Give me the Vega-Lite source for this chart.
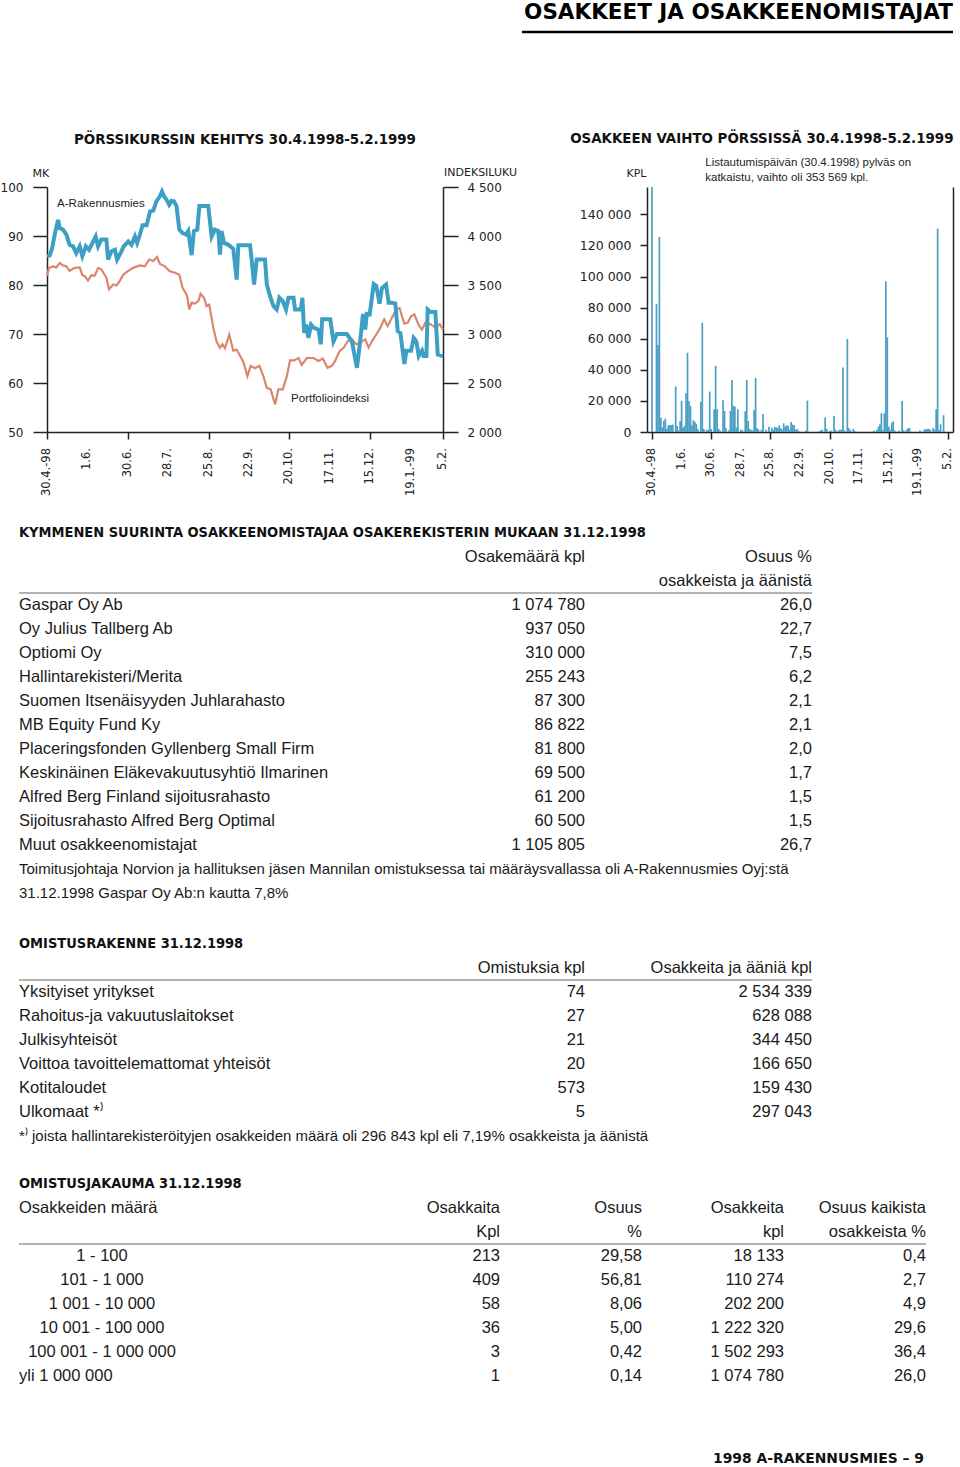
{
"$schema": "https://vega.github.io/schema/vega-lite/v6.json",
"padding": {"left": 0, "top": 2, "right": 4, "bottom": 0},
"bounds": "full",
"spacing": 0,
"config": {
  "view": {"stroke": null},
  "locale": {"number": {"decimal": ",", "thousands": " ", "grouping": [3], "currency": ["", ""]}},
  "font": "Liberation Sans",
  "text": {"font": "Liberation Sans", "color": "#1a1a1a"},
  "axis": {"domainColor": "#222", "domainWidth": 1.5, "tickColor": "#222", "tickWidth": 1.5, "labelColor": "#222", "labelFont": "DejaVu Sans", "titleFont": "DejaVu Sans", "titleFontWeight": "normal", "titleColor": "#222", "titleFontSize": 11, "grid": false, "labelOverlap": false, "labelFlush": false},
  "title": {"color": "#111", "fontWeight": "bold"}
},
"datasets": {
  "kurssi": [{"d":0,"mk":85.9},{"d":1.3,"mk":86},{"d":2.6,"mk":87.6},{"d":3.8,"mk":90.3},{"d":5.5,"mk":93.3},{"d":6.3,"mk":91.6},{"d":7.9,"mk":91.3},{"d":9.6,"mk":90.3},{"d":11.2,"mk":88.2},{"d":12.9,"mk":87.9},{"d":14.5,"mk":86.5},{"d":16.2,"mk":87.9},{"d":17.5,"mk":85.9},{"d":19.2,"mk":87.9},{"d":20.8,"mk":87.2},{"d":22.5,"mk":88.6},{"d":24.1,"mk":89.9},{"d":25.3,"mk":87.9},{"d":26.9,"mk":89.3},{"d":29.4,"mk":89.3},{"d":30.2,"mk":85.2},{"d":31.9,"mk":86.9},{"d":33.6,"mk":87.2},{"d":34.7,"mk":85.2},{"d":36.4,"mk":86.5},{"d":38,"mk":87.9},{"d":40.2,"mk":88.9},{"d":41.8,"mk":88.2},{"d":43.5,"mk":89.9},{"d":44.6,"mk":88.6},{"d":46,"mk":90.3},{"d":47.3,"mk":92.2},{"d":49.3,"mk":92.2},{"d":51,"mk":95},{"d":52.6,"mk":95.2},{"d":54.2,"mk":97.1},{"d":55.9,"mk":98.1},{"d":56.9,"mk":99.1},{"d":57.9,"mk":98.1},{"d":59.2,"mk":97.4},{"d":60.5,"mk":96.4},{"d":61.7,"mk":97.2},{"d":62.8,"mk":97.1},{"d":64.1,"mk":96.1},{"d":65.5,"mk":91.3},{"d":67.1,"mk":90.6},{"d":68.8,"mk":90.3},{"d":69.9,"mk":91},{"d":71.6,"mk":86.1},{"d":72.7,"mk":91},{"d":74.4,"mk":91.3},{"d":75.4,"mk":96.1},{"d":79.8,"mk":96.1},{"d":81.5,"mk":89.9},{"d":83.1,"mk":91.3},{"d":84.8,"mk":91},{"d":85.6,"mk":86.2},{"d":86.4,"mk":91},{"d":87.6,"mk":88.6},{"d":89.8,"mk":88.2},{"d":92.2,"mk":87.4},{"d":93.9,"mk":81.1},{"d":94.7,"mk":88.1},{"d":100.5,"mk":88.1},{"d":101.3,"mk":85.2},{"d":102.5,"mk":80.1},{"d":103.8,"mk":85.2},{"d":107.9,"mk":85.2},{"d":108.8,"mk":80.1},{"d":110.4,"mk":77.7},{"d":112.1,"mk":75.7},{"d":113.7,"mk":75},{"d":115,"mk":77.4},{"d":116.7,"mk":76.7},{"d":118.3,"mk":75},{"d":119.5,"mk":77.4},{"d":122,"mk":77.4},{"d":122.8,"mk":75},{"d":125.6,"mk":75},{"d":126.4,"mk":77.4},{"d":127.3,"mk":70.2},{"d":128.3,"mk":71.9},{"d":129.4,"mk":69.2},{"d":130.7,"mk":71.9},{"d":131.9,"mk":71.3},{"d":134.4,"mk":70.9},{"d":135.5,"mk":67.9},{"d":136.2,"mk":73},{"d":140.2,"mk":73},{"d":141.8,"mk":68.5},{"d":143.5,"mk":70},{"d":148.4,"mk":70},{"d":150.9,"mk":68.5},{"d":153.4,"mk":63.1},{"d":155,"mk":68.5},{"d":156.4,"mk":74.1},{"d":157.5,"mk":70.9},{"d":158.3,"mk":74.1},{"d":159.7,"mk":74},{"d":161.7,"mk":80.2},{"d":163,"mk":79.8},{"d":164.6,"mk":76.2},{"d":165.8,"mk":79.4},{"d":167.8,"mk":80.1},{"d":169.1,"mk":76.4},{"d":170.7,"mk":76.4},{"d":172.4,"mk":76.2},{"d":173.6,"mk":70.6},{"d":174.9,"mk":70.2},{"d":176.9,"mk":63.9},{"d":177.9,"mk":66.6},{"d":180.2,"mk":66.6},{"d":181.5,"mk":69.2},{"d":182.8,"mk":68.5},{"d":184,"mk":65.5},{"d":185.6,"mk":66.6},{"d":186.4,"mk":65.5},{"d":187.8,"mk":65.5},{"d":188.4,"mk":75},{"d":189.8,"mk":74.5},{"d":192.2,"mk":74.5},{"d":193.4,"mk":65.8},{"d":196,"mk":65.5}],
  "indeksi": [{"d":0,"ix":3590},{"d":1,"ix":3675},{"d":3,"ix":3690},{"d":4.6,"ix":3680},{"d":6.3,"ix":3725},{"d":7.9,"ix":3700},{"d":9.6,"ix":3690},{"d":11.2,"ix":3645},{"d":13.7,"ix":3675},{"d":16.2,"ix":3680},{"d":17.5,"ix":3600},{"d":18.7,"ix":3590},{"d":20.3,"ix":3545},{"d":22,"ix":3600},{"d":23.6,"ix":3595},{"d":25.3,"ix":3675},{"d":26.9,"ix":3660},{"d":28.6,"ix":3600},{"d":29.4,"ix":3575},{"d":30.7,"ix":3455},{"d":32.7,"ix":3505},{"d":34.4,"ix":3495},{"d":36,"ix":3540},{"d":37.7,"ix":3605},{"d":40.2,"ix":3645},{"d":42.6,"ix":3675},{"d":46,"ix":3700},{"d":48.4,"ix":3690},{"d":50.6,"ix":3760},{"d":52.6,"ix":3745},{"d":54.5,"ix":3785},{"d":55.9,"ix":3715},{"d":58.3,"ix":3690},{"d":60.8,"ix":3640},{"d":63.3,"ix":3625},{"d":65.5,"ix":3605},{"d":67.1,"ix":3470},{"d":68.3,"ix":3430},{"d":69.4,"ix":3385},{"d":70.4,"ix":3250},{"d":71.6,"ix":3320},{"d":73.2,"ix":3310},{"d":74.9,"ix":3335},{"d":76,"ix":3410},{"d":77.7,"ix":3370},{"d":79,"ix":3285},{"d":80.3,"ix":3300},{"d":82.3,"ix":3065},{"d":83.9,"ix":2925},{"d":85.6,"ix":2860},{"d":86.9,"ix":2895},{"d":88.1,"ix":2855},{"d":90.2,"ix":2995},{"d":92.2,"ix":2830},{"d":93.9,"ix":2840},{"d":95.2,"ix":2790},{"d":97.2,"ix":2715},{"d":99.2,"ix":2570},{"d":100.8,"ix":2675},{"d":103,"ix":2650},{"d":105.1,"ix":2675},{"d":107.1,"ix":2570},{"d":108.8,"ix":2450},{"d":110.7,"ix":2435},{"d":112.9,"ix":2280},{"d":114.5,"ix":2435},{"d":116.7,"ix":2435},{"d":118.7,"ix":2570},{"d":120.3,"ix":2730},{"d":122.3,"ix":2730},{"d":124.5,"ix":2755},{"d":126.1,"ix":2685},{"d":128.6,"ix":2755},{"d":131.9,"ix":2755},{"d":134.4,"ix":2725},{"d":136.5,"ix":2750},{"d":138.8,"ix":2655},{"d":141,"ix":2675},{"d":142.6,"ix":2725},{"d":144.8,"ix":2825},{"d":146.8,"ix":2860},{"d":148.8,"ix":2925},{"d":150.9,"ix":2945},{"d":153.1,"ix":2895},{"d":155,"ix":2910},{"d":157.5,"ix":2945},{"d":159.2,"ix":2860},{"d":160.8,"ix":2925},{"d":163,"ix":2995},{"d":165,"ix":3065},{"d":166.9,"ix":3150},{"d":168.6,"ix":3080},{"d":170.7,"ix":3165},{"d":172.9,"ix":3250},{"d":174.5,"ix":3265},{"d":175.7,"ix":3180},{"d":176.9,"ix":3105},{"d":178.5,"ix":3115},{"d":180.2,"ix":3180},{"d":181.8,"ix":3200},{"d":184,"ix":3090},{"d":185.6,"ix":3045},{"d":187.3,"ix":3115},{"d":189.8,"ix":3100},{"d":192.2,"ix":3065},{"d":194.4,"ix":3100},{"d":196,"ix":3045}],
  "nimet": [{"d":5,"v":96.5,"t":"A-Rakennusmies"},{"d":120.8,"v":56.7,"t":"Portfolioindeksi"}],
  "paivat1": [{"d":0,"lab":"30.4.-98"},{"d":20,"lab":"1.6."},{"d":40,"lab":"30.6."},{"d":60,"lab":"28.7."},{"d":80,"lab":"25.8."},{"d":100,"lab":"22.9."},{"d":120,"lab":"20.10."},{"d":140,"lab":"17.11."},{"d":160,"lab":"15.12."},{"d":180,"lab":"19.1.-99"},{"d":196,"lab":"5.2."}],
  "paivat2": [{"d":0,"lab":"30.4.-98"},{"d":20,"lab":"1.6."},{"d":40,"lab":"30.6."},{"d":60,"lab":"28.7."},{"d":80,"lab":"25.8."},{"d":100,"lab":"22.9."},{"d":120,"lab":"20.10."},{"d":140,"lab":"17.11."},{"d":160,"lab":"15.12."},{"d":180,"lab":"19.1.-99"},{"d":200,"lab":"5.2."}],
  "vaihto": [{"d":0,"v":353569},{"d":3,"v":82500},{"d":4,"v":56000},{"d":5,"v":125500},{"d":6,"v":9200},{"d":7,"v":3000},{"d":8,"v":7100},{"d":9,"v":8600},{"d":10,"v":2000},{"d":11,"v":4300},{"d":12,"v":4500},{"d":13,"v":4500},{"d":14,"v":4800},{"d":16,"v":29300},{"d":17,"v":3900},{"d":18,"v":1000},{"d":19,"v":7100},{"d":20,"v":20000},{"d":21,"v":2800},{"d":22,"v":4000},{"d":23,"v":25000},{"d":24,"v":51000},{"d":25,"v":20000},{"d":26,"v":16800},{"d":27,"v":4300},{"d":28,"v":7600},{"d":29,"v":6500},{"d":30,"v":5000},{"d":31,"v":1700},{"d":33,"v":19600},{"d":34,"v":70200},{"d":35,"v":2000},{"d":37,"v":1500},{"d":38,"v":1200},{"d":39,"v":26000},{"d":40,"v":2000},{"d":42,"v":14600},{"d":43,"v":42600},{"d":44,"v":14600},{"d":45,"v":2000},{"d":46,"v":1000},{"d":48,"v":20400},{"d":49,"v":13500},{"d":50,"v":2500},{"d":52,"v":1200},{"d":53,"v":13500},{"d":54,"v":33400},{"d":55,"v":16800},{"d":56,"v":16400},{"d":57,"v":3000},{"d":58,"v":14600},{"d":60,"v":1500},{"d":61,"v":1200},{"d":63,"v":13300},{"d":64,"v":33400},{"d":65,"v":7100},{"d":66,"v":2000},{"d":67,"v":1200},{"d":68,"v":1000},{"d":69,"v":14200},{"d":70,"v":34700},{"d":71,"v":2500},{"d":72,"v":1500},{"d":74,"v":1500},{"d":75,"v":11600},{"d":77,"v":1500},{"d":79,"v":3400},{"d":81,"v":2800},{"d":82,"v":1500},{"d":83,"v":3200},{"d":84,"v":3000},{"d":85,"v":2500},{"d":86,"v":4300},{"d":87,"v":2500},{"d":88,"v":1500},{"d":89,"v":5600},{"d":90,"v":3500},{"d":91,"v":4300},{"d":92,"v":3900},{"d":93,"v":1500},{"d":94,"v":6500},{"d":95,"v":4800},{"d":96,"v":4300},{"d":97,"v":1500},{"d":98,"v":2000},{"d":99,"v":800},{"d":104,"v":1000},{"d":105,"v":20200},{"d":113,"v":600},{"d":114,"v":1000},{"d":115,"v":1500},{"d":117,"v":9300},{"d":118,"v":2000},{"d":120,"v":600},{"d":121,"v":1000},{"d":123,"v":10300},{"d":124,"v":1500},{"d":126,"v":1000},{"d":127,"v":1500},{"d":128,"v":1500},{"d":129,"v":41500},{"d":130,"v":1000},{"d":132,"v":59800},{"d":133,"v":2500},{"d":134,"v":1200},{"d":136,"v":2000},{"d":137,"v":600},{"d":150,"v":900},{"d":152,"v":1500},{"d":153,"v":3400},{"d":154,"v":5000},{"d":155,"v":12000},{"d":156,"v":1000},{"d":157,"v":12000},{"d":158,"v":96900},{"d":159,"v":60900},{"d":160,"v":3400},{"d":161,"v":1200},{"d":162,"v":6000},{"d":163,"v":6900},{"d":164,"v":1000},{"d":167,"v":1000},{"d":169,"v":20000},{"d":170,"v":1200},{"d":172,"v":1500},{"d":173,"v":2400},{"d":174,"v":2600},{"d":181,"v":1000},{"d":184,"v":1500},{"d":185,"v":1800},{"d":186,"v":2000},{"d":187,"v":2000},{"d":188,"v":1500},{"d":190,"v":2500},{"d":191,"v":1500},{"d":192,"v":14600},{"d":193,"v":130900},{"d":194,"v":1500},{"d":195,"v":5000},{"d":197,"v":10800}],
  "huom": [{"d":36,"v":157600,"t":["Listautumispäivän (30.4.1998) pylväs on","katkaistu, vaihto oli 353 569 kpl."]}],
  "t1": [
    {"r":0,"n":"KYMMENEN SUURINTA OSAKKEENOMISTAJAA OSAKEREKISTERIN MUKAAN 31.12.1998","k":"","o":""},
    {"r":1,"n":"","k":"Osakemäärä kpl","o":"Osuus %"},
    {"r":2,"n":"","k":"","o":"osakkeista ja äänistä"},
    {"r":3,"n":"Gaspar Oy Ab","k":"1 074 780","o":"26,0"},
    {"r":4,"n":"Oy Julius Tallberg Ab","k":"937 050","o":"22,7"},
    {"r":5,"n":"Optiomi Oy","k":"310 000","o":"7,5"},
    {"r":6,"n":"Hallintarekisteri/Merita","k":"255 243","o":"6,2"},
    {"r":7,"n":"Suomen Itsenäisyyden Juhlarahasto","k":"87 300","o":"2,1"},
    {"r":8,"n":"MB Equity Fund Ky","k":"86 822","o":"2,1"},
    {"r":9,"n":"Placeringsfonden Gyllenberg Small Firm","k":"81 800","o":"2,0"},
    {"r":10,"n":"Keskinäinen Eläkevakuutusyhtiö Ilmarinen","k":"69 500","o":"1,7"},
    {"r":11,"n":"Alfred Berg Finland sijoitusrahasto","k":"61 200","o":"1,5"},
    {"r":12,"n":"Sijoitusrahasto Alfred Berg Optimal","k":"60 500","o":"1,5"},
    {"r":13,"n":"Muut osakkeenomistajat","k":"1 105 805","o":"26,7"},
    {"r":14,"n":"Toimitusjohtaja Norvion ja hallituksen jäsen Mannilan omistuksessa tai määräysvallassa oli A-Rakennusmies Oyj:stä","k":"","o":""},
    {"r":15,"n":"31.12.1998 Gaspar Oy Ab:n kautta 7,8%","k":"","o":""}
  ],
  "t2": [
    {"r":0,"n":"OMISTUSRAKENNE 31.12.1998","k":"","o":""},
    {"r":1,"n":"","k":"Omistuksia kpl","o":"Osakkeita ja ääniä kpl"},
    {"r":2,"n":"Yksityiset yritykset","k":"74","o":"2 534 339"},
    {"r":3,"n":"Rahoitus-ja vakuutuslaitokset","k":"27","o":"628 088"},
    {"r":4,"n":"Julkisyhteisöt","k":"21","o":"344 450"},
    {"r":5,"n":"Voittoa tavoittelemattomat yhteisöt","k":"20","o":"166 650"},
    {"r":6,"n":"Kotitaloudet","k":"573","o":"159 430"},
    {"r":7,"n":"Ulkomaat *⁾","k":"5","o":"297 043"},
    {"r":8,"n":"*⁾ joista hallintarekisteröityjen osakkeiden määrä oli 296 843 kpl eli 7,19% osakkeista ja äänistä","k":"","o":""}
  ],
  "t3": [
    {"r":0,"n":"OMISTUSJAKAUMA 31.12.1998","a":"","b":"","c":"","e":""},
    {"r":1,"n":"Osakkeiden määrä","a":"Osakkaita","b":"Osuus","c":"Osakkeita","e":"Osuus kaikista"},
    {"r":2,"n":"","a":"Kpl","b":"%","c":"kpl","e":"osakkeista %"},
    {"r":3,"n":"1 - 100","a":"213","b":"29,58","c":"18 133","e":"0,4"},
    {"r":4,"n":"101 - 1 000","a":"409","b":"56,81","c":"110 274","e":"2,7"},
    {"r":5,"n":"1 001 - 10 000","a":"58","b":"8,06","c":"202 200","e":"4,9"},
    {"r":6,"n":"10 001 - 100 000","a":"36","b":"5,00","c":"1 222 320","e":"29,6"},
    {"r":7,"n":"100 001 - 1 000 000","a":"3","b":"0,42","c":"1 502 293","e":"36,4"},
    {"r":8,"n":"yli 1 000 000","a":"1","b":"0,14","c":"1 074 780","e":"26,0"}
  ]
},
"vconcat": [
  {"hconcat": [
    {"width": 503, "height": 129, "data": {"values": [{}]}, "mark": {"type": "text", "text": ""}},
    {"width": 431, "height": 30, "data": {"values": [{"t": "OSAKKEET JA OSAKKEENOMISTAJAT"}]},
     "layer": [
       {"mark": {"type": "text", "align": "right", "baseline": "top", "font": "DejaVu Sans", "fontWeight": "bold", "fontSize": 21.5, "color": "#000"}, "encoding": {"x": {"value": "width"}, "y": {"value": 0}, "text": {"field": "t"}}},
       {"mark": {"type": "rule", "color": "#000", "strokeWidth": 2.5}, "encoding": {"x": {"value": 0}, "x2": {"value": "width"}, "y": {"value": "height"}}}
     ]}
  ], "spacing": 0, "bounds": "flush"},
  {"hconcat": [
    {"width": 28, "height": 334, "data": {"values": [{}]}, "mark": {"type": "text", "text": ""}},
    {"width": 396, "height": 245,
     "title": {"text": "PÖRSSIKURSSIN KEHITYS 30.4.1998-5.2.1999", "anchor": "middle", "font": "DejaVu Sans Condensed, DejaVu Sans", "fontSize": 14.9, "fontWeight": "bold", "color": "#111", "offset": 19},
     "layer": [
       {"data": {"name": "indeksi"},
        "mark": {"type": "line", "color": "#d9876d", "strokeWidth": 2.2},
        "encoding": {
          "x": {"field": "d", "type": "quantitative", "scale": {"domain": [0, 196], "nice": false, "zero": false},
                "axis": {"values": [0,20,40,60,80,100,120,140,160,180,196], "labels": false, "tickSize": 7, "title": null}},
          "y": {"field": "ix", "type": "quantitative", "scale": {"domain": [2000, 4500], "nice": false, "zero": false},
                "axis": {"orient": "right", "values": [2000,2500,3000,3500,4000,4500], "format": ",d", "tickSize": 15, "labelPadding": 9, "labelFontSize": 12, "title": "INDEKSILUKU", "titleAngle": 0, "titleAlign": "center", "titleBaseline": "bottom", "titleX": 37, "titleY": -10}}
        }},
       {"data": {"name": "kurssi"},
        "mark": {"type": "line", "color": "#3e9fc5", "strokeWidth": 4},
        "encoding": {
          "x": {"field": "d", "type": "quantitative"},
          "y": {"field": "mk", "type": "quantitative", "scale": {"domain": [50, 100], "nice": false, "zero": false},
                "axis": {"orient": "left", "values": [50,60,70,80,90,100], "tickSize": 14, "labelPadding": 10, "labelFontSize": 12, "title": "MK", "titleAngle": 0, "titleAlign": "left", "titleBaseline": "bottom", "titleX": -15, "titleY": -9}}
        }},
       {"data": {"name": "nimet"},
        "mark": {"type": "text", "align": "left", "baseline": "middle", "fontSize": 11.5, "color": "#222"},
        "encoding": {
          "x": {"field": "d", "type": "quantitative"},
          "y": {"field": "v", "type": "quantitative", "scale": {"domain": [50, 100], "nice": false, "zero": false}, "axis": null},
          "text": {"field": "t"}
        }},
       {"data": {"name": "paivat1"},
        "mark": {"type": "text", "angle": 270, "align": "right", "baseline": "middle", "dx": -16, "font": "DejaVu Sans", "fontSize": 11.5, "color": "#222"},
        "encoding": {
          "x": {"field": "d", "type": "quantitative"},
          "y": {"value": "height"},
          "text": {"field": "lab"}
        }}
     ],
     "resolve": {"scale": {"y": "independent"}}},
    {"width": 204, "height": 1, "data": {"values": [{}]}, "mark": {"type": "text", "text": ""}},
    {"width": 306, "height": 245,
     "title": {"text": "OSAKKEEN VAIHTO PÖRSSISSÄ 30.4.1998-5.2.1999", "anchor": "end", "font": "DejaVu Sans Condensed, DejaVu Sans", "fontSize": 14.9, "fontWeight": "bold", "color": "#111", "offset": 11},
     "layer": [
       {"data": {"name": "vaihto"},
        "mark": {"type": "bar", "orient": "vertical", "size": 1.7, "color": "#4a9fc3"},
        "encoding": {
          "x": {"field": "d", "type": "quantitative", "scale": {"domain": [0, 200], "nice": false, "zero": false},
                "axis": {"values": [0,20,40,60,80,100,120,140,160,180,200], "labels": false, "tickSize": 7, "title": null}},
          "y": {"field": "v", "type": "quantitative", "scale": {"domain": [0, 157600], "nice": false, "clamp": true},
                "axis": {"orient": "left", "values": [0,20000,40000,60000,80000,100000,120000,140000], "format": ",d", "tickSize": 7, "labelPadding": 9, "labelFontSize": 12.5, "title": "KPL", "titleAngle": 0, "titleAlign": "right", "titleBaseline": "bottom", "titleX": -1, "titleY": -9}}
        }},
       {"data": {"name": "huom"},
        "mark": {"type": "text", "align": "left", "baseline": "bottom", "dy": -19, "fontSize": 11.5, "lineHeight": 15, "color": "#222"},
        "encoding": {
          "x": {"field": "d", "type": "quantitative"},
          "y": {"field": "v", "type": "quantitative", "scale": {"domain": [0, 157600], "nice": false}, "axis": {"orient": "right", "ticks": false, "labels": false, "title": null}},
          "text": {"field": "t"}
        }},
       {"data": {"name": "paivat2"},
        "mark": {"type": "text", "angle": 270, "align": "right", "baseline": "middle", "dx": -16, "font": "DejaVu Sans", "fontSize": 11.5, "color": "#222"},
        "encoding": {
          "x": {"field": "d", "type": "quantitative"},
          "y": {"value": "height"},
          "text": {"field": "lab"}
        }}
     ],
     "resolve": {"scale": {"y": "independent"}}}
  ], "spacing": 0, "bounds": "flush"},
  {"hconcat": [
    {"width": 340, "height": 384, "data": {"name": "t1"},
     "encoding": {"y": {"field": "r", "type": "ordinal", "axis": null, "scale": {"type": "band", "paddingInner": 0, "paddingOuter": 0}}},
     "layer": [
       {"transform": [{"filter": "datum.r == 0"}], "mark": {"type": "text", "align": "left", "baseline": "middle", "font": "DejaVu Sans Condensed, DejaVu Sans", "fontWeight": "bold", "fontSize": 14.5, "color": "#111"}, "encoding": {"x": {"value": 0}, "text": {"field": "n"}}},
       {"transform": [{"filter": "datum.r > 0 && datum.r <= 13"}], "mark": {"type": "text", "align": "left", "baseline": "middle", "fontSize": 16.5}, "encoding": {"x": {"value": 0}, "text": {"field": "n"}}},
       {"transform": [{"filter": "datum.r > 13"}], "mark": {"type": "text", "align": "left", "baseline": "middle", "fontSize": 15}, "encoding": {"x": {"value": 0}, "text": {"field": "n"}}},
       {"transform": [{"filter": "datum.r == 3"}], "mark": {"type": "rule", "color": "#999", "strokeWidth": 1.5}, "encoding": {"y": {"field": "r", "type": "ordinal", "bandPosition": 0}}}
     ]},
    {"width": 226, "height": 384, "data": {"name": "t1"},
     "encoding": {"y": {"field": "r", "type": "ordinal", "axis": null, "scale": {"type": "band", "paddingInner": 0, "paddingOuter": 0}}},
     "layer": [
       {"mark": {"type": "text", "align": "right", "baseline": "middle", "fontSize": 16.5}, "encoding": {"x": {"value": "width"}, "text": {"field": "k"}}},
       {"transform": [{"filter": "datum.r == 3"}], "mark": {"type": "rule", "color": "#999", "strokeWidth": 1.5}, "encoding": {"y": {"field": "r", "type": "ordinal", "bandPosition": 0}}}
     ]},
    {"width": 227, "height": 384, "data": {"name": "t1"},
     "encoding": {"y": {"field": "r", "type": "ordinal", "axis": null, "scale": {"type": "band", "paddingInner": 0, "paddingOuter": 0}}},
     "layer": [
       {"mark": {"type": "text", "align": "right", "baseline": "middle", "fontSize": 16.5}, "encoding": {"x": {"value": "width"}, "text": {"field": "o"}}},
       {"transform": [{"filter": "datum.r == 3"}], "mark": {"type": "rule", "color": "#999", "strokeWidth": 1.5}, "encoding": {"y": {"field": "r", "type": "ordinal", "bandPosition": 0}}}
     ]},
    {"width": 1, "height": 411, "data": {"values": [{}]}, "mark": {"type": "text", "text": ""}}
  ], "spacing": 0, "bounds": "flush"},
  {"hconcat": [
    {"width": 340, "height": 216, "data": {"name": "t2"},
     "encoding": {"y": {"field": "r", "type": "ordinal", "axis": null, "scale": {"type": "band", "paddingInner": 0, "paddingOuter": 0}}},
     "layer": [
       {"transform": [{"filter": "datum.r == 0"}], "mark": {"type": "text", "align": "left", "baseline": "middle", "font": "DejaVu Sans Condensed, DejaVu Sans", "fontWeight": "bold", "fontSize": 14.5, "color": "#111"}, "encoding": {"x": {"value": 0}, "text": {"field": "n"}}},
       {"transform": [{"filter": "datum.r > 0 && datum.r <= 7"}], "mark": {"type": "text", "align": "left", "baseline": "middle", "fontSize": 16.5}, "encoding": {"x": {"value": 0}, "text": {"field": "n"}}},
       {"transform": [{"filter": "datum.r > 7"}], "mark": {"type": "text", "align": "left", "baseline": "middle", "fontSize": 15}, "encoding": {"x": {"value": 0}, "text": {"field": "n"}}},
       {"transform": [{"filter": "datum.r == 2"}], "mark": {"type": "rule", "color": "#999", "strokeWidth": 1.5}, "encoding": {"y": {"field": "r", "type": "ordinal", "bandPosition": 0}}}
     ]},
    {"width": 226, "height": 216, "data": {"name": "t2"},
     "encoding": {"y": {"field": "r", "type": "ordinal", "axis": null, "scale": {"type": "band", "paddingInner": 0, "paddingOuter": 0}}},
     "layer": [
       {"mark": {"type": "text", "align": "right", "baseline": "middle", "fontSize": 16.5}, "encoding": {"x": {"value": "width"}, "text": {"field": "k"}}},
       {"transform": [{"filter": "datum.r == 2"}], "mark": {"type": "rule", "color": "#999", "strokeWidth": 1.5}, "encoding": {"y": {"field": "r", "type": "ordinal", "bandPosition": 0}}}
     ]},
    {"width": 227, "height": 216, "data": {"name": "t2"},
     "encoding": {"y": {"field": "r", "type": "ordinal", "axis": null, "scale": {"type": "band", "paddingInner": 0, "paddingOuter": 0}}},
     "layer": [
       {"mark": {"type": "text", "align": "right", "baseline": "middle", "fontSize": 16.5}, "encoding": {"x": {"value": "width"}, "text": {"field": "o"}}},
       {"transform": [{"filter": "datum.r == 2"}], "mark": {"type": "rule", "color": "#999", "strokeWidth": 1.5}, "encoding": {"y": {"field": "r", "type": "ordinal", "bandPosition": 0}}}
     ]},
    {"width": 1, "height": 240, "data": {"values": [{}]}, "mark": {"type": "text", "text": ""}}
  ], "spacing": 0, "bounds": "flush"},
  {"hconcat": [
    {"width": 166, "height": 216, "data": {"name": "t3"},
     "encoding": {"y": {"field": "r", "type": "ordinal", "axis": null, "scale": {"type": "band", "paddingInner": 0, "paddingOuter": 0}}},
     "layer": [
       {"transform": [{"filter": "datum.r == 0"}], "mark": {"type": "text", "align": "left", "baseline": "middle", "font": "DejaVu Sans Condensed, DejaVu Sans", "fontWeight": "bold", "fontSize": 14.5, "color": "#111"}, "encoding": {"x": {"value": 0}, "text": {"field": "n"}}},
       {"transform": [{"filter": "datum.r == 1 || datum.r == 8"}], "mark": {"type": "text", "align": "left", "baseline": "middle", "fontSize": 16.5}, "encoding": {"x": {"value": 0}, "text": {"field": "n"}}},
       {"transform": [{"filter": "datum.r > 1 && datum.r < 8"}], "mark": {"type": "text", "align": "center", "baseline": "middle", "fontSize": 16.5}, "encoding": {"text": {"field": "n"}}},
       {"transform": [{"filter": "datum.r == 3"}], "mark": {"type": "rule", "color": "#999", "strokeWidth": 1.5}, "encoding": {"y": {"field": "r", "type": "ordinal", "bandPosition": 0}}}
     ]},
    {"width": 315, "height": 216, "data": {"name": "t3"},
     "encoding": {"y": {"field": "r", "type": "ordinal", "axis": null, "scale": {"type": "band", "paddingInner": 0, "paddingOuter": 0}}},
     "layer": [
       {"mark": {"type": "text", "align": "right", "baseline": "middle", "fontSize": 16.5}, "encoding": {"x": {"value": "width"}, "text": {"field": "a"}}},
       {"transform": [{"filter": "datum.r == 3"}], "mark": {"type": "rule", "color": "#999", "strokeWidth": 1.5}, "encoding": {"y": {"field": "r", "type": "ordinal", "bandPosition": 0}}}
     ]},
    {"width": 142, "height": 216, "data": {"name": "t3"},
     "encoding": {"y": {"field": "r", "type": "ordinal", "axis": null, "scale": {"type": "band", "paddingInner": 0, "paddingOuter": 0}}},
     "layer": [
       {"mark": {"type": "text", "align": "right", "baseline": "middle", "fontSize": 16.5}, "encoding": {"x": {"value": "width"}, "text": {"field": "b"}}},
       {"transform": [{"filter": "datum.r == 3"}], "mark": {"type": "rule", "color": "#999", "strokeWidth": 1.5}, "encoding": {"y": {"field": "r", "type": "ordinal", "bandPosition": 0}}}
     ]},
    {"width": 142, "height": 216, "data": {"name": "t3"},
     "encoding": {"y": {"field": "r", "type": "ordinal", "axis": null, "scale": {"type": "band", "paddingInner": 0, "paddingOuter": 0}}},
     "layer": [
       {"mark": {"type": "text", "align": "right", "baseline": "middle", "fontSize": 16.5}, "encoding": {"x": {"value": "width"}, "text": {"field": "c"}}},
       {"transform": [{"filter": "datum.r == 3"}], "mark": {"type": "rule", "color": "#999", "strokeWidth": 1.5}, "encoding": {"y": {"field": "r", "type": "ordinal", "bandPosition": 0}}}
     ]},
    {"width": 142, "height": 216, "data": {"name": "t3"},
     "encoding": {"y": {"field": "r", "type": "ordinal", "axis": null, "scale": {"type": "band", "paddingInner": 0, "paddingOuter": 0}}},
     "layer": [
       {"mark": {"type": "text", "align": "right", "baseline": "middle", "fontSize": 16.5}, "encoding": {"x": {"value": "width"}, "text": {"field": "e"}}},
       {"transform": [{"filter": "datum.r == 3"}], "mark": {"type": "rule", "color": "#999", "strokeWidth": 1.5}, "encoding": {"y": {"field": "r", "type": "ordinal", "bandPosition": 0}}}
     ]}
  ], "spacing": 0, "bounds": "flush"},
  {"width": 905, "height": 71, "data": {"values": [{"t": "1998 A-RAKENNUSMIES – 9"}]},
   "mark": {"type": "text", "align": "right", "baseline": "middle", "font": "DejaVu Sans", "fontWeight": "bold", "fontSize": 13.9, "color": "#111"},
   "encoding": {"x": {"value": "width"}, "y": {"value": "height"}, "text": {"field": "t"}}}
]
}
